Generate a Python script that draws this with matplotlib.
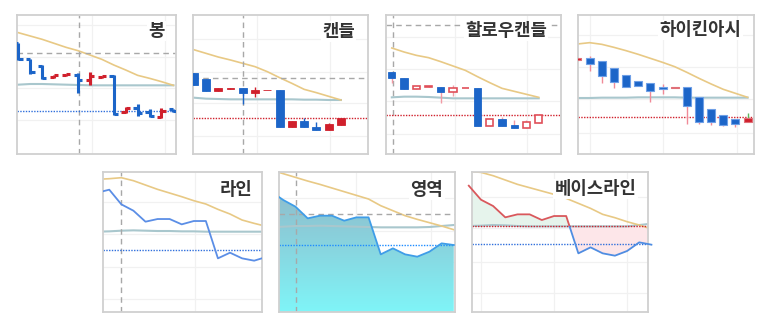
import numpy as np
import matplotlib
matplotlib.use('Agg')
import matplotlib.pyplot as plt
from matplotlib.patches import Polygon, Rectangle
from matplotlib.colors import LinearSegmentedColormap

plt.rcParams['font.family'] = ['Noto Sans CJK KR', 'DejaVu Sans']

# ---- data (price units, read off the thumbnails) ----
# 봉 (OHLC bars)
bar_open = [380, 332, 312, 280, 284, 285, 270, 279, 282, 175, 187, 175, 158, 182]
bar_high = [382, 334, 314, 285, 289, 290, 295, 283, 284, 190, 197, 183, 185, 184]
bar_low = [330, 288, 273, 277, 282, 232, 254, 277, 165, 170, 162, 158, 155, 175]
bar_close = [332, 295, 276, 284, 287, 270, 282, 281, 168, 187, 172, 162, 177, 177]
bar_ma = [412, 402, 392, 380, 368, 358, 345, 332, 315, 300, 284, 275, 265, 254]
bar_base = [256, 258, 258, 257, 256, 255, 254, 254, 254, 254, 254, 254, 254, 254]

# 캔들
candle_open = [290, 272, 237, 244, 246, 230, 239.5, 240, 128, 147, 130, 120, 135]
candle_close = [255, 237, 246, 245.5, 230, 240, 241, 128, 147, 128, 120, 137, 157]
candle_high = [292, 272, 246, 246, 246, 248, 241, 240, 147, 155, 145, 140, 157]
candle_low = [254, 237, 237, 244, 198, 218, 239.5, 128, 128, 128, 120, 120, 135]
candle_ma = [361, 350, 339, 330, 320, 310, 295, 277, 260, 242, 232, 221, 210]
candle_base = [217, 214, 213, 212, 212, 212, 212, 212, 212, 211, 211, 210, 210]

# 할로우캔들
hollow_open = [295, 277, 242, 249, 250, 235, 245, 246, 133, 153, 135, 125, 142]
hollow_close = [275, 242, 252, 251, 235, 246, 247, 133, 153, 133, 125, 143, 165]
hollow_high = [295, 277, 252, 251, 250, 256, 247, 246, 153, 160, 150, 150, 165]
hollow_low = [262, 242, 242, 249, 202, 222, 245, 133, 133, 133, 125, 125, 142]
hollow_ma = [366, 354, 344, 337, 325, 312, 299, 280, 262, 245, 236, 227, 218]
hollow_base = [218, 220, 220, 219, 217, 215, 215, 215, 215, 215, 215, 215, 215]

# 하이킨아시
ha_open = [330, 335, 327, 305, 285, 267, 262, 248, 245, 248, 220, 184, 165, 152, 143]
ha_close = [335, 317, 283, 263, 250, 252, 237, 242, 249, 192, 145, 145, 135, 138, 157]
ha_high = [335, 342, 327, 305, 285, 267, 262, 258, 249, 248, 220, 184, 165, 152, 170]
ha_low = [330, 298, 260, 247, 250, 252, 205, 227, 245, 138, 138, 135, 132, 130, 143]
ha_ma = [378, 382, 377, 368, 358, 347, 335, 323, 310, 293, 275, 258, 242, 230, 218]
ha_base = [216, 216, 217, 217, 217, 218, 218, 218, 218, 217, 217, 217, 217, 217, 217]

# 라인 (index -1 .. 13)
line_close = [397, 406, 362, 343, 310, 318, 318, 302, 312, 312, 200, 217, 200, 193, 204]
line_ma = [437, 439, 442, 433, 420, 407, 396, 385, 373, 363, 347, 333, 315, 305, 296]
line_base = [280, 281, 283, 284, 283, 282, 282, 281, 281, 280, 280, 280, 280, 280, 280]

# 영역 (index -1 .. 14)
area_close = [400, 375, 355, 320, 328, 328, 313, 323, 323, 212, 230, 212, 205, 220, 245, 240]
area_ma = [465, 454, 443, 432, 422, 411, 400, 389, 378, 358, 343, 328, 317, 307, 297, 286]
area_base = [293, 295, 297, 297, 298, 297, 296, 295, 294, 293, 293, 293, 293, 294, 297, 300]

# 베이스라인 (index -1 .. 14)
bl_close = [418, 376, 357, 323, 332, 332, 315, 327, 327, 215, 233, 215, 208, 222, 248, 241]
bl_ma = [461, 458, 448, 435, 422, 412, 402, 392, 380, 365, 350, 332, 322, 310, 300, 288]
bl_base = [297, 298, 300, 299, 297, 296, 296, 296, 296, 296, 296, 296, 296, 296, 300, 304]
baseline_value = 296

BLUE = '#1c65c8'
RED = '#d0202c'
MA = '#e8c985'
BASE = '#a9c7cd'
GRID = '#f1f1f1'
DASH = '#a8a8a8'
W, H = 773, 328

fig = plt.figure(figsize=(W / 100, H / 100), dpi=100)


def panel(rect, xlim, ylim, hgrid, vgrid):
    x0, y0, x1, y1 = rect
    ax = fig.add_axes([x0 / W, 1 - y1 / H, (x1 - x0) / W, (y1 - y0) / H])
    ax.set_xlim(xlim)
    ax.set_ylim(ylim)
    ax.set_xticks([])
    ax.set_yticks([])
    for s in ax.spines.values():
        s.set_color('#d0d0d0')
        s.set_linewidth(1.3)
    for g in hgrid:
        ax.axhline(g, color=GRID, lw=0.9, zorder=0)
    for g in vgrid:
        ax.axvline(g, color=GRID, lw=0.9, zorder=0)
    return ax


def title(x, y, s):
    fig.text(x / W, 1 - y / H, s, ha='right', va='center', fontsize=12.8,
             fontweight='bold', color='#333333', zorder=10,
             bbox=dict(facecolor='white', edgecolor='none', pad=1))


def overlays(ax, x, ma, base, hdash=None, vdash=None):
    ax.plot(x, base, color=BASE, lw=1.5, zorder=1)
    ax.plot(x, ma, color=MA, lw=1.2, zorder=2)
    if hdash is not None:
        ax.axhline(hdash, color=DASH, lw=1, ls=(0, (4, 3)), zorder=2)
    if vdash is not None:
        ax.axvline(vdash, color=DASH, lw=1, ls=(0, (4, 3)), zorder=2)


def dotted(ax, y, c):
    ax.axhline(y, color=c, lw=1, ls=(0, (1, 1)), zorder=2)


# ---- 봉 ----
ax = panel((17.3, 15, 175.7, 154), (-0.084, 13.19), (48, 465),
           [435, 340, 245, 150], [6.15, 12.3])
x = np.arange(len(bar_open))
overlays(ax, x, bar_ma, bar_base, hdash=350, vdash=5.1)
dotted(ax, 177, '#2f6fdc')
o, c = np.array(bar_open), np.array(bar_close)
cols = np.where(c >= o, RED, BLUE)
ax.vlines(x, bar_low, bar_high, colors=cols, lw=2.2, zorder=3)
ax.hlines(o, x - 0.36, x, colors=cols, lw=2.2, zorder=3)
ax.hlines(c, x, x + 0.36, colors=cols, lw=2.2, zorder=3)
title(165, 31, '봉')

# ---- 캔들 ----
ax = panel((192.7, 15, 368.3, 154), (-0.08, 14.23), (48, 465),
           [392, 295, 200, 102], [5.13, 11.1])
x = np.arange(len(candle_open))
overlays(ax, x, candle_ma, candle_base, hdash=277, vdash=4.05)
dotted(ax, 157, RED)
o, c = np.array(candle_open), np.array(candle_close)
cols = np.where(c >= o, RED, BLUE)
ax.vlines(x, candle_low, candle_high, colors=cols, lw=1, zorder=3)
ax.bar(x, c - o, bottom=o, width=0.65, color=cols, edgecolor=cols, lw=0.6, zorder=4)
title(355, 31.5, '캔들')

# ---- 할로우캔들 ----
ax = panel((385.7, 15, 561, 154), (-0.5, 13.82), (48, 465),
           [400, 302, 208, 108], [5.14, 11.04])
x = np.arange(len(hollow_open))
overlays(ax, x, hollow_ma, hollow_base, hdash=435, vdash=0.1)
dotted(ax, 165, RED)
o, c = np.array(hollow_open), np.array(hollow_close)
up = c >= o
ax.vlines(x, hollow_low, hollow_high, colors=np.where(up, '#f0a0a8', '#f29aa4'), lw=1, zorder=3)
ax.bar(x[~up], (c - o)[~up], bottom=o[~up], width=0.6, color=BLUE, edgecolor=BLUE, lw=0.6, zorder=4)
ax.bar(x[up], (c - o)[up], bottom=o[up], width=0.6, color='white', edgecolor='#e0505a', lw=1.2, zorder=4)
title(547, 31, '할로우캔들')

# ---- 하이킨아시 ----
ax = panel((578.3, 15, 754.3, 154), (0.07, 14.55), (48, 465),
           [405, 308, 212, 112], [1.03, 7.06, 13.1])
x = np.arange(len(ha_open))
overlays(ax, x, ha_ma, ha_base)
dotted(ax, 158, RED)
o, c = np.array(ha_open), np.array(ha_close)
up = c >= o
ax.vlines(x, ha_low, ha_high, colors=np.where(up, '#5cb85c', '#f08a98'), lw=1, zorder=3)
ax.bar(x, c - o, bottom=o, width=0.66, color=np.where(up, RED, BLUE),
       edgecolor=np.where(up, '#e07078', '#6e9fe6'), lw=0.8, zorder=4)
title(741.7, 30, '하이킨아시')

# ---- 라인 ----
ax = panel((103, 171.7, 262, 312), (-0.52, 12.65), (39, 460),
           [368, 272, 175, 78], [7.1])
x = np.arange(-1, len(line_close) - 1)
overlays(ax, x, line_ma, line_base, vdash=1.0)
dotted(ax, 225, '#2f6fdc')
ax.plot(x, line_close, color='#5b8ee6', lw=1.3, zorder=3)
title(252.7, 190, '라인')

# ---- 영역 ----
ax = panel((278.7, 171.7, 455, 312), (-0.38, 14.1), (39, 460),
           [380, 283, 190, 95], [6.0, 12.1])
x = np.arange(-1, len(area_close) - 1)
verts = [(x[0], 39)] + list(zip(x, area_close)) + [(x[-1], 39)]
clip = Polygon(verts, closed=True, facecolor='none', edgecolor='none')
ax.add_patch(clip)
cmap = LinearSegmentedColormap.from_list('area', ['#7ff5f8', '#88d6e0', '#8fbccb'])
grad = np.linspace(0, 1, 256).reshape(-1, 1)
im = ax.imshow(grad, extent=[-2, 16, 39, 410], origin='lower', aspect='auto',
               cmap=cmap, zorder=0.5)
im.set_clip_path(clip)
ax.set_xlim(-0.38, 14.1)
ax.set_ylim(39, 460)
overlays(ax, x, area_ma, area_base, hdash=333, vdash=1.05)
dotted(ax, 240, '#1e8cff')
ax.plot(x, area_close, color='#3f9de8', lw=1.3, zorder=3)
title(443.3, 190, '영역')

# ---- 베이스라인 ----
ax = panel((471.7, 171.7, 648, 312), (-0.76, 13.72), (39, 460),
           [385, 290, 190, 95], [0, 6, 12])
x = np.arange(-1, len(bl_close) - 1)
yc = np.array(bl_close)
ax.fill_between(x, yc, baseline_value, where=yc >= baseline_value, interpolate=True,
                color='#e6f4ec', lw=0, zorder=0.5)
ax.fill_between(x, yc, baseline_value, where=yc <= baseline_value, interpolate=True,
                color='#fde6e9', lw=0, zorder=0.5)
overlays(ax, x, bl_ma, bl_base)
dotted(ax, baseline_value, RED)
dotted(ax, 242, '#2f6fdc')
l_up, = ax.plot(x, yc, color='#d9585c', lw=1.3, zorder=3)
l_dn, = ax.plot(x, yc, color='#4f8de2', lw=1.3, zorder=3)
l_up.set_clip_path(Rectangle((-2, baseline_value), 20, 300, transform=ax.transData))
l_dn.set_clip_path(Rectangle((-2, 0), 20, baseline_value, transform=ax.transData))
title(636.7, 189, '베이스라인')

fig.savefig('out.png', dpi=100)
